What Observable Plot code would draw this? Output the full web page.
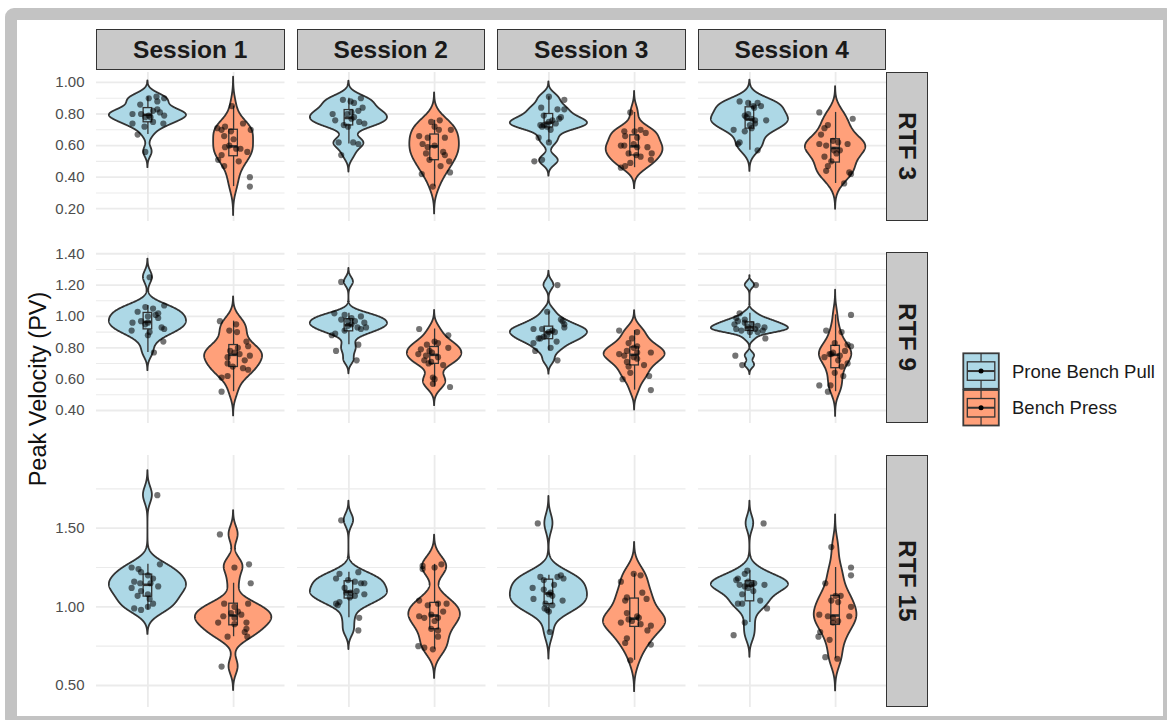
<!DOCTYPE html>
<html><head><meta charset="utf-8">
<script src="https://cdn.jsdelivr.net/npm/d3@7"></script>
<script src="https://cdn.jsdelivr.net/npm/@observablehq/plot@0.6"></script>
<style>
html,body{margin:0;padding:0;width:1167px;height:720px;overflow:hidden;background:#fff;font-family:"Liberation Sans",Arial,Helvetica,sans-serif;}
#frame{position:absolute;left:5px;top:8px;width:1146px;height:696px;border:12px solid #c3c3c3;border-radius:9px;background:#fff;}
#chart{position:absolute;left:0;top:0;width:1167px;height:720px;}
.strip{position:absolute;box-sizing:border-box;background:#c9c9c9;border:1px solid #333;display:flex;align-items:center;justify-content:center;font-weight:bold;font-size:24.5px;color:#1a1a1a;}
.vstrip{writing-mode:vertical-rl;}
#ytitle{position:absolute;left:38px;top:389px;transform:translate(-50%,-50%) rotate(-90deg);white-space:nowrap;font-size:23.5px;color:#111;}
</style></head><body>
<div id="frame"></div>
<div id="chart"></div>
<script>
// ---------- data (Peak Velocity, each pair = [value, horizontal jitter]) ----------
const sessions = ["Session 1", "Session 2", "Session 3", "Session 4"];
const exercises = ["Prone Bench Pull", "Bench Press"];
const rtfs = ["RTF 3", "RTF 9", "RTF 15"];
const fills = ["#add8e6", "#ffa07a"];
const yDomains = [[0.119, 1.063], [0.317, 1.408], [0.36, 1.962]];
const majorTicks = [[0.2, 0.4, 0.6, 0.8, 1.0], [0.4, 0.6, 0.8, 1.0, 1.2, 1.4], [0.5, 1.0, 1.5]];
const minorTicks = [[0.3, 0.5, 0.7, 0.9], [0.5, 0.7, 0.9, 1.1, 1.3], [0.75, 1.25, 1.75]];

const r3s1Pull = [[0.91,0.10],[0.90,0.19],[0.90,0.01],[0.88,0.11],[0.86,-0.09],[0.83,0.11],[0.81,0.14],[0.82,0.06],[0.80,-0.18],[0.80,-0.08],[0.79,0.01],[0.79,0.19],[0.78,-0.03],[0.78,0.03],[0.75,0.06],[0.74,-0.18],[0.74,0.18],[0.72,-0.04],[0.67,-0.12],[0.56,-0.03]];
const r3s1Press = [[0.85,-0.02],[0.74,0.11],[0.72,-0.10],[0.71,-0.19],[0.70,-0.14],[0.70,0.20],[0.69,-0.03],[0.66,-0.11],[0.64,0.00],[0.60,-0.05],[0.59,-0.10],[0.58,0.03],[0.58,0.08],[0.56,0.16],[0.54,-0.14],[0.51,-0.18],[0.50,0.06],[0.47,-0.11],[0.40,0.19],[0.34,0.19]];
const r3s2Pull = [[0.90,0.14],[0.89,-0.07],[0.88,0.02],[0.87,0.06],[0.84,0.16],[0.82,0.11],[0.81,0.03],[0.80,-0.19],[0.80,-0.02],[0.78,0.06],[0.77,0.03],[0.76,-0.16],[0.75,0.12],[0.74,0.18],[0.73,-0.06],[0.72,-0.01],[0.62,-0.12],[0.62,0.05],[0.61,0.11],[0.54,-0.09]];
const r3s2Press = [[0.76,0.06],[0.75,-0.04],[0.72,0.00],[0.70,0.19],[0.70,0.05],[0.66,-0.18],[0.65,-0.08],[0.65,0.12],[0.61,-0.14],[0.60,0.00],[0.59,-0.08],[0.56,0.10],[0.55,-0.10],[0.54,0.12],[0.51,-0.06],[0.50,0.17],[0.47,0.07],[0.43,0.18],[0.42,-0.15],[0.34,-0.02]];
const r3s3Pull = [[0.91,0.00],[0.89,0.18],[0.84,-0.09],[0.83,0.10],[0.83,0.18],[0.79,-0.06],[0.78,0.14],[0.77,0.12],[0.76,0.04],[0.75,0.00],[0.74,0.08],[0.73,-0.10],[0.73,-0.06],[0.72,-0.02],[0.72,-0.08],[0.70,0.02],[0.65,-0.12],[0.62,0.00],[0.51,-0.08],[0.50,-0.17]];
const r3s3Press = [[0.81,-0.05],[0.70,0.07],[0.69,0.00],[0.69,-0.12],[0.68,0.13],[0.66,-0.11],[0.65,0.03],[0.61,-0.01],[0.60,-0.16],[0.60,-0.12],[0.59,0.15],[0.59,0.03],[0.55,0.20],[0.55,-0.07],[0.54,0.02],[0.53,0.07],[0.51,0.19],[0.49,-0.05],[0.47,-0.11],[0.46,-0.16]];
const r3s4Pull = [[0.88,-0.12],[0.87,-0.02],[0.87,0.09],[0.85,0.13],[0.85,0.04],[0.84,0.05],[0.80,-0.02],[0.79,-0.06],[0.78,-0.04],[0.77,0.02],[0.76,0.19],[0.76,0.06],[0.74,0.06],[0.73,0.00],[0.71,0.02],[0.70,-0.19],[0.69,-0.06],[0.62,-0.12],[0.61,-0.14],[0.57,0.09]];
const r3s4Press = [[0.81,-0.19],[0.77,0.20],[0.73,-0.09],[0.71,-0.13],[0.67,-0.17],[0.63,-0.03],[0.62,0.03],[0.61,-0.19],[0.61,0.14],[0.60,-0.11],[0.57,-0.02],[0.57,0.05],[0.55,0.01],[0.53,-0.13],[0.50,-0.05],[0.47,-0.09],[0.44,-0.11],[0.43,0.16],[0.42,0.18],[0.36,0.10]];

const r9s1Pull = [[1.25,0.02],[1.07,0.19],[1.06,-0.03],[1.05,0.06],[1.03,-0.12],[1.02,0.12],[1.01,0.09],[1.00,0.00],[0.99,0.12],[0.97,-0.08],[0.96,-0.18],[0.96,0.00],[0.95,-0.03],[0.93,0.16],[0.92,0.19],[0.91,-0.19],[0.90,0.02],[0.88,0.00],[0.84,0.18],[0.77,0.07]];
const r9s1Press = [[0.97,-0.16],[0.95,0.03],[0.91,-0.05],[0.90,0.04],[0.84,0.15],[0.81,0.17],[0.80,0.05],[0.78,-0.04],[0.77,0.01],[0.76,0.07],[0.75,0.19],[0.74,-0.07],[0.72,0.13],[0.70,-0.07],[0.68,-0.01],[0.67,0.11],[0.66,0.17],[0.62,-0.07],[0.61,-0.14],[0.52,-0.14]];
const r9s2Pull = [[1.22,-0.09],[1.02,-0.17],[1.01,-0.05],[1.00,0.14],[0.99,0.03],[0.98,-0.09],[0.97,-0.01],[0.97,0.07],[0.96,0.18],[0.95,0.03],[0.94,-0.01],[0.93,0.10],[0.93,0.20],[0.92,0.14],[0.91,-0.05],[0.89,-0.16],[0.88,-0.20],[0.82,0.11],[0.78,-0.15],[0.72,0.09]];
const r9s2Press = [[0.92,-0.18],[0.88,0.16],[0.84,0.00],[0.83,0.04],[0.82,-0.09],[0.80,0.16],[0.79,-0.16],[0.78,-0.06],[0.77,-0.03],[0.76,-0.19],[0.75,-0.10],[0.74,0.04],[0.72,-0.12],[0.71,-0.04],[0.70,-0.07],[0.69,0.10],[0.61,-0.02],[0.60,0.00],[0.57,-0.02],[0.55,0.18]];
const r9s3Pull = [[1.20,0.10],[1.03,-0.02],[0.98,0.14],[0.97,0.16],[0.95,0.18],[0.93,0.18],[0.92,-0.18],[0.92,-0.08],[0.91,0.04],[0.90,0.00],[0.90,0.07],[0.88,-0.02],[0.87,-0.06],[0.86,-0.10],[0.86,-0.12],[0.84,0.09],[0.83,-0.18],[0.80,0.02],[0.78,-0.16],[0.72,0.10]];
const r9s3Press = [[0.91,-0.18],[0.90,0.03],[0.86,-0.03],[0.83,-0.07],[0.81,0.03],[0.80,-0.01],[0.78,-0.09],[0.77,0.19],[0.77,0.03],[0.76,-0.18],[0.75,-0.12],[0.74,-0.01],[0.73,0.03],[0.71,-0.09],[0.69,0.11],[0.68,-0.07],[0.64,-0.05],[0.62,0.17],[0.60,-0.14],[0.53,0.19]];
const r9s4Pull = [[1.20,0.07],[1.02,-0.12],[0.99,-0.16],[0.98,-0.06],[0.97,-0.14],[0.96,-0.06],[0.95,-0.18],[0.95,0.02],[0.94,0.09],[0.93,0.17],[0.93,-0.02],[0.92,-0.16],[0.92,0.06],[0.91,-0.10],[0.91,0.15],[0.90,0.00],[0.90,0.09],[0.86,0.18],[0.75,-0.17],[0.69,-0.09]];
const r9s4Press = [[1.01,0.18],[0.91,-0.11],[0.90,0.07],[0.83,-0.01],[0.82,0.14],[0.81,0.18],[0.78,0.11],[0.77,-0.03],[0.76,-0.07],[0.76,-0.05],[0.75,0.05],[0.74,-0.13],[0.72,0.03],[0.70,0.14],[0.68,0.07],[0.64,-0.01],[0.62,0.09],[0.56,-0.19],[0.56,-0.06],[0.52,-0.09]];

const r15s1Pull = [[1.71,0.11],[1.27,0.14],[1.25,-0.19],[1.24,-0.11],[1.22,-0.08],[1.20,0.00],[1.18,0.06],[1.16,-0.16],[1.15,-0.09],[1.15,0.03],[1.13,0.12],[1.12,-0.19],[1.10,-0.08],[1.08,0.00],[1.07,-0.12],[1.05,0.02],[1.02,0.06],[1.00,0.00],[0.99,-0.16],[0.98,-0.08]];
const r15s1Press = [[1.46,-0.16],[1.27,0.18],[1.25,0.01],[1.15,0.20],[1.02,-0.11],[1.02,0.17],[1.00,0.01],[0.97,0.05],[0.96,-0.03],[0.95,0.09],[0.94,-0.12],[0.93,0.01],[0.90,-0.18],[0.90,0.15],[0.89,0.01],[0.86,0.15],[0.84,0.13],[0.81,0.16],[0.81,-0.07],[0.62,-0.14]];
const r15s2Pull = [[1.55,-0.09],[1.22,0.11],[1.21,-0.11],[1.18,-0.15],[1.17,-0.01],[1.16,0.07],[1.15,0.14],[1.15,0.18],[1.12,-0.05],[1.10,0.09],[1.09,0.02],[1.09,-0.03],[1.08,0.18],[1.07,0.07],[1.06,0.01],[1.03,-0.11],[1.02,-0.15],[1.01,-0.13],[0.93,0.12],[0.85,0.11]];
const r15s2Press = [[1.27,0.08],[1.26,-0.14],[1.25,0.00],[1.24,-0.14],[1.04,-0.18],[1.02,0.04],[1.02,0.14],[1.01,-0.08],[0.97,0.10],[0.95,-0.04],[0.94,-0.18],[0.93,-0.12],[0.93,0.04],[0.91,0.00],[0.86,-0.04],[0.85,0.04],[0.81,0.04],[0.75,-0.19],[0.74,-0.12],[0.73,-0.02]];
const r15s3Pull = [[1.53,-0.13],[1.20,0.14],[1.19,-0.10],[1.19,0.10],[1.18,0.17],[1.17,-0.06],[1.14,0.06],[1.12,-0.19],[1.11,-0.06],[1.09,0.02],[1.08,0.00],[1.07,0.04],[1.05,-0.18],[1.04,0.16],[1.02,-0.04],[1.01,0.04],[0.99,-0.05],[0.98,-0.02],[0.97,0.00],[0.84,0.01]];
const r15s3Press = [[1.21,-0.01],[1.20,0.07],[1.16,-0.16],[1.09,0.09],[1.06,-0.09],[1.05,0.14],[1.04,-0.11],[0.96,-0.09],[0.94,0.03],[0.93,0.05],[0.92,-0.07],[0.91,-0.03],[0.90,-0.16],[0.89,0.07],[0.88,0.19],[0.85,0.15],[0.80,-0.09],[0.77,-0.11],[0.76,0.19],[0.66,-0.05]];
const r15s4Pull = [[1.53,0.16],[1.23,-0.03],[1.21,-0.06],[1.18,-0.14],[1.17,-0.16],[1.16,-0.02],[1.15,0.05],[1.14,0.02],[1.14,0.17],[1.14,-0.12],[1.13,-0.06],[1.12,-0.02],[1.10,0.04],[1.08,-0.09],[1.04,0.12],[1.02,-0.14],[1.02,-0.09],[0.99,0.20],[0.90,-0.06],[0.82,-0.19]];
const r15s4Press = [[1.38,-0.05],[1.25,0.18],[1.20,0.18],[1.15,-0.12],[1.07,0.06],[1.07,0.00],[1.04,-0.05],[1.03,0.03],[1.00,0.18],[0.95,-0.19],[0.94,-0.09],[0.94,0.16],[0.93,-0.03],[0.91,0.03],[0.90,-0.03],[0.84,-0.18],[0.81,-0.20],[0.79,-0.07],[0.68,-0.12],[0.67,0.02]];

const groupsByRow = [
  [[r3s1Pull, r3s1Press], [r3s2Pull, r3s2Press], [r3s3Pull, r3s3Press], [r3s4Pull, r3s4Press]],
  [[r9s1Pull, r9s1Press], [r9s2Pull, r9s2Press], [r9s3Pull, r9s3Press], [r9s4Pull, r9s4Press]],
  [[r15s1Pull, r15s1Press], [r15s2Pull, r15s2Press], [r15s3Pull, r15s3Press], [r15s4Pull, r15s4Press]]
];

// ---------- layout ----------
const FONT = '"Liberation Sans", Arial, Helvetica, sans-serif';
const PANEL_W = 188.5, COL_STEP = 200.5, PANEL_X0 = 96;
const rowTop = [72, 252, 455], rowH = [149, 171, 252];
const STRIP_TOP = 29, STRIP_H = 41, RSTRIP_X = 886, RSTRIP_W = 42;

// ---------- stats (ggplot-like violin: gaussian kde, bw.nrd0, trim = FALSE, scale = "area") ----------
function bwNrd0(v) {
  const hi = d3.deviation(v);
  const iqr = d3.quantile(v, 0.75) - d3.quantile(v, 0.25);
  let lo = Math.min(hi, iqr / 1.34);
  if (!(lo > 0)) lo = hi || Math.abs(v[0]) || 1;
  return 0.9 * lo * Math.pow(v.length, -0.2);
}
function kde(v) {
  const bw = bwNrd0(v), N = 512;
  const from = d3.min(v) - 3 * bw, to = d3.max(v) + 3 * bw;
  const out = [];
  for (let i = 0; i < N; i++) {
    const y = from + (to - from) * i / (N - 1);
    let s = 0;
    for (const x of v) { const u = (y - x) / bw; s += Math.exp(-0.5 * u * u); }
    out.push({y, d: s / (v.length * bw * Math.sqrt(2 * Math.PI))});
  }
  return out;
}

const chart = document.getElementById("chart");
function place(node, left, top, w, h) {
  const d = document.createElement("div");
  d.style.cssText = `position:absolute;left:${left}px;top:${top}px;width:${w}px;height:${h}px;`;
  d.appendChild(node);
  chart.appendChild(d);
}

for (let r = 0; r < 3; r++) {
  for (let c = 0; c < 4; c++) {
    const pair = groupsByRow[r][c];
    const dens = pair.map(g => kde(g.map(p => p[0])));
    const maxD = d3.max(dens.flat(), d => d.d);
    const violins = dens.flatMap((ds, i) => ds.map(d => ({
      exercise: exercises[i], y: d.y,
      x1: i + 1 - 0.45 * d.d / maxD, x2: i + 1 + 0.45 * d.d / maxD
    })));
    const boxes = pair.map((g, i) => {
      const v = g.map(p => p[0]).sort(d3.ascending);
      const q1 = d3.quantile(v, 0.25), med = d3.quantile(v, 0.5), q3 = d3.quantile(v, 0.75);
      const iqr = q3 - q1;
      const lo = d3.min(v.filter(x => x >= q1 - 1.5 * iqr - 1e-9));
      const hi = d3.max(v.filter(x => x <= q3 + 1.5 * iqr + 1e-9));
      return {exercise: exercises[i], c: i + 1, q1, med, q3, lo, hi};
    });
    const points = pair.flatMap((g, i) => g.map(([pv, jit]) => ({exercise: exercises[i], pv, x: i + 1 + jit})));

    const ml = c === 0 ? 80 : 6, mr = 6, mt = 6, mb = 6;
    const w = PANEL_W + ml + mr, h = rowH[r] + mt + mb;
    const marks = [
      Plot.ruleY(minorTicks[r], {stroke: "#ebebeb", strokeWidth: 1.1}),
      Plot.ruleY(majorTicks[r], {stroke: "#ebebeb", strokeWidth: 1.8}),
      Plot.ruleX([1, 2], {stroke: "#ebebeb", strokeWidth: 1.8}),
      Plot.areaX(violins, {y: "y", x1: "x1", x2: "x2", z: "exercise", fill: "exercise", stroke: "#333333", strokeWidth: 1.8, strokeLinejoin: "round"}),
      Plot.ruleX(boxes, {x: "c", y1: "lo", y2: "q1", stroke: "#333333", strokeWidth: 1.3}),
      Plot.ruleX(boxes, {x: "c", y1: "q3", y2: "hi", stroke: "#333333", strokeWidth: 1.3}),
      Plot.rect(boxes, {x1: d => d.c - 0.05, x2: d => d.c + 0.05, y1: "q1", y2: "q3", fill: "none", stroke: "#333333", strokeWidth: 1.3}),
      Plot.ruleY(boxes, {y: "med", x1: d => d.c - 0.05, x2: d => d.c + 0.05, stroke: "#333333", strokeWidth: 2.6}),
      Plot.dot(points, {x: "x", y: "pv", r: 3.1, fill: "#000", fillOpacity: 0.55, stroke: null})
    ];
    if (c === 0) {
      marks.push(Plot.axisY(majorTicks[r], {tickSize: 0, tickPadding: 12, tickFormat: d3.format(".2f"), fontSize: 15, fill: "#4d4d4d", stroke: "none", label: null}));
    }
    const svg = Plot.plot({
      width: w, height: h,
      marginLeft: ml, marginRight: mr, marginTop: mt, marginBottom: mb,
      style: {background: "transparent", overflow: "visible", fontFamily: FONT},
      x: {domain: [0.4, 2.6], axis: null},
      y: {domain: yDomains[r], axis: null},
      color: {domain: exercises, range: fills},
      marks
    });
    place(svg, PANEL_X0 + c * COL_STEP - ml, rowTop[r] - mt, w, h);
  }
}

// ---------- strips ----------
sessions.forEach((s, c) => {
  const d = document.createElement("div");
  d.className = "strip";
  d.style.left = (PANEL_X0 + c * COL_STEP) + "px";
  d.style.top = STRIP_TOP + "px";
  d.style.width = PANEL_W + "px";
  d.style.height = STRIP_H + "px";
  d.textContent = s;
  chart.appendChild(d);
});
rtfs.forEach((t, r) => {
  const d = document.createElement("div");
  d.className = "strip";
  d.style.left = RSTRIP_X + "px";
  d.style.top = rowTop[r] + "px";
  d.style.width = RSTRIP_W + "px";
  d.style.height = rowH[r] + "px";
  const span = document.createElement("span");
  span.className = "vstrip";
  span.textContent = t;
  d.appendChild(span);
  chart.appendChild(d);
});

// ---------- y title ----------
const yt = document.createElement("div");
yt.id = "ytitle";
yt.textContent = "Peak Velocity (PV)";
chart.appendChild(yt);

// ---------- legend ----------
const leg = d3.create("svg").attr("width", 212).attr("height", 90)
  .style("position", "absolute").style("left", "955px").style("top", "345px").style("overflow", "visible");
const KS = 35.5;
exercises.forEach((ex, i) => {
  const x0 = 8.3, y0 = 8.3 + i * 36.7;
  const g = leg.append("g");
  g.append("rect").attr("x", x0).attr("y", y0).attr("width", KS).attr("height", KS)
    .attr("fill", fills[i]).attr("stroke", "#3a3a3a").attr("stroke-width", 1.8);
  const cx = x0 + KS / 2, bt = y0 + KS * 0.24, bb = y0 + KS * 0.76;
  g.append("line").attr("x1", cx).attr("x2", cx).attr("y1", y0).attr("y2", bt).attr("stroke", "#333").attr("stroke-width", 1.2);
  g.append("line").attr("x1", cx).attr("x2", cx).attr("y1", bb).attr("y2", y0 + KS).attr("stroke", "#333").attr("stroke-width", 1.2);
  g.append("rect").attr("x", x0 + 4).attr("y", bt).attr("width", KS - 8).attr("height", bb - bt)
    .attr("fill", "none").attr("stroke", "#333").attr("stroke-width", 1.3);
  g.append("line").attr("x1", x0 + 4).attr("x2", x0 + KS - 4).attr("y1", y0 + KS / 2).attr("y2", y0 + KS / 2).attr("stroke", "#333").attr("stroke-width", 2);
  g.append("circle").attr("cx", cx).attr("cy", y0 + KS / 2).attr("r", 2.5).attr("fill", "#000");
  g.append("text").attr("x", 57).attr("y", y0 + KS / 2).attr("dy", "0.35em")
    .attr("font-size", 18.5).attr("fill", "#1a1a1a").attr("font-family", FONT).text(ex);
});
chart.appendChild(leg.node());
</script>
</body></html>
